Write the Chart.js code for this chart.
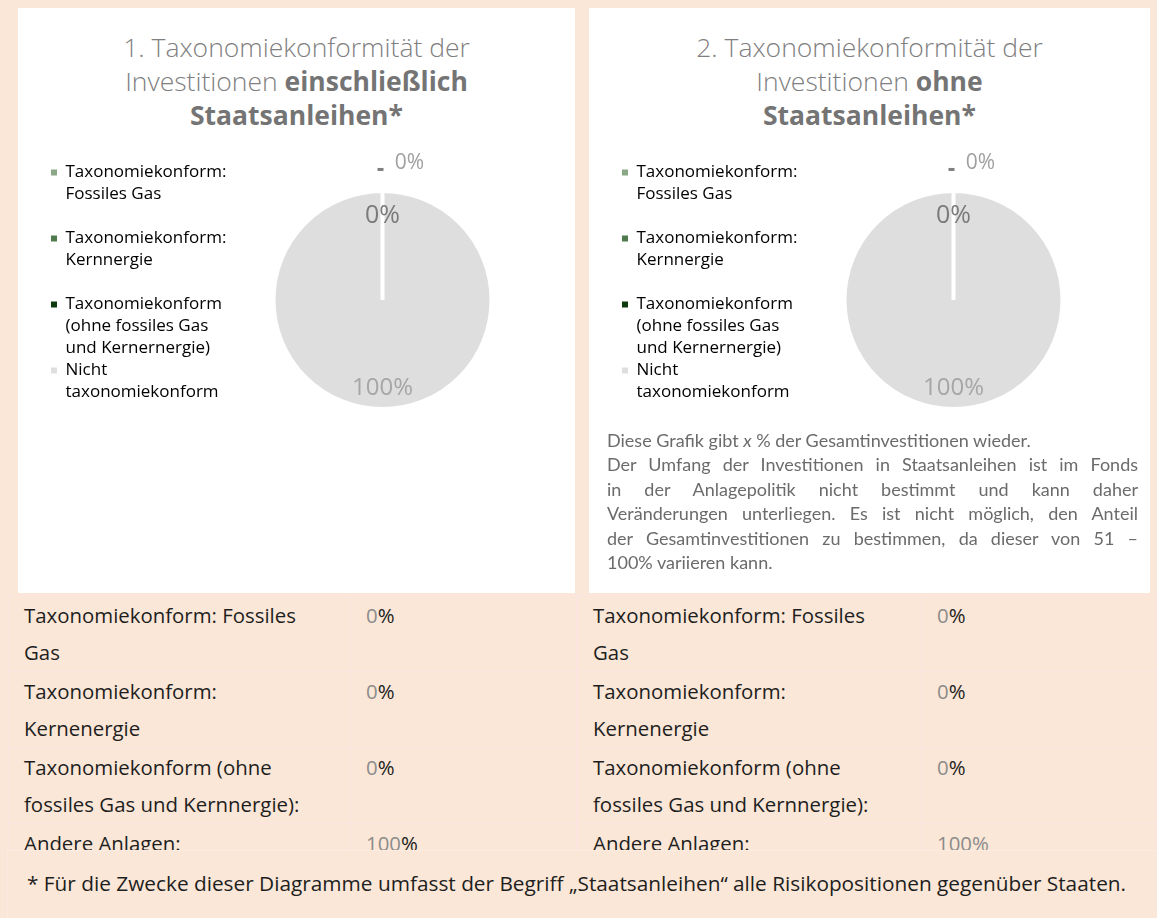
<!DOCTYPE html>
<html lang="de">
<head>
<meta charset="utf-8">
<title>Taxonomiekonformität</title>
<script src="https://cdn.jsdelivr.net/npm/chart.js@4.4.1/dist/chart.umd.min.js"></script>
<style>
  body {
    margin: 0;
    width: 1157px;
    height: 918px;
    overflow: hidden;
    position: relative;
    background: #fae7d7;
    font-family: "Open Sans", sans-serif;
  }
  .panel {
    position: absolute;
    top: 8px;
    height: 585px;
    background: #fff;
  }
  #panel1 { left: 18px; width: 557px; }
  #panel2 { left: 589px; width: 561px; }
  .title {
    position: absolute;
    left: 0;
    right: 0;
    top: 22px;
    text-align: center;
    font-size: 26.5px;
    line-height: 34px;
    font-weight: 300;
    color: #7f7f7f;
  }
  .title b { font-weight: 700; color: #747474; }
  .chartbox {
    position: absolute;
    left: 0;
    top: 122px;
    width: 557px;
    height: 310px;
  }
  .note {
    position: absolute;
    left: 18px;
    top: 420px;
    width: 531px;
    font-family: Lato, sans-serif;
    font-size: 18px;
    line-height: 24.4px;
    color: #6b6b6b;
  }
  .note div { white-space: nowrap; }
  .note .just { text-align: justify; text-align-last: justify; white-space: normal; }
  table.values {
    position: absolute;
    top: 595px;
    border-collapse: collapse;
    table-layout: fixed;
    font-size: 20.4px;
    line-height: 37px;
    color: #1e1e1e;
  }
  table.values td {
    border: 1px solid #fde4e1;
    padding: 1px 0 0 15px;
    vertical-align: top;
  }
  table.values .grey { color: #8c8c8c; }
  #table1 { left: 8px; width: 569px; }
  #table2 { left: 577px; width: 580px; }
  .footer {
    position: absolute;
    left: 7px;
    right: 0;
    top: 850px;
    bottom: 0;
    background: #fae7d7;
    border-top: 1px solid #fcebe0;
    border-left: 1px solid #fcebe0;
  }
  .footer p {
    margin: 0;
    position: absolute;
    left: 19px;
    top: 18px;
    font-size: 20.8px;
    color: #1e1e1e;
    white-space: nowrap;
  }
</style>
</head>
<body>

<div class="panel" id="panel1">
  <div class="title">1. Taxonomiekonformität der<br>Investitionen <b>einschließlich<br>Staatsanleihen*</b></div>
  <div class="chartbox"><canvas id="chartWith" width="557" height="310"></canvas></div>
</div>

<div class="panel" id="panel2">
  <div class="title">2. Taxonomiekonformität der<br>Investitionen <b>ohne<br>Staatsanleihen*</b></div>
  <div class="chartbox"><canvas id="chartWithout" width="557" height="310"></canvas></div>
  <div class="note">
    <div>Diese Grafik gibt <i>x</i> % der Gesamtinvestitionen wieder.</div>
    <div class="just">Der Umfang der Investitionen in Staatsanleihen ist im Fonds</div>
    <div class="just">in der Anlagepolitik nicht bestimmt und kann daher</div>
    <div class="just">Veränderungen unterliegen. Es ist nicht möglich, den Anteil</div>
    <div class="just">der Gesamtinvestitionen zu bestimmen, da dieser von 51 –</div>
    <div>100% variieren kann.</div>
  </div>
</div>

<table class="values" id="table1"></table>
<table class="values" id="table2"></table>

<div class="footer">
  <p>* Für die Zwecke dieser Diagramme umfasst der Begriff „Staatsanleihen“ alle Risikopositionen gegenüber Staaten.</p>
</div>

<script>
// ## DATA ##

const legendLines = [
  ["Taxonomiekonform:", "Fossiles Gas", ""],
  ["Taxonomiekonform:", "Kernnergie", ""],
  ["Taxonomiekonform", "(ohne fossiles Gas", "und Kernernergie)"],
  ["Nicht", "taxonomiekonform"],
];
const valuesWithBonds = [0, 0, 0, 100];
const valuesWithoutBonds = [0, 0, 0, 100];
const sliceColors = ["#8aa886", "#4f7a4d", "#0e3b0e", "#dedede"];

const tableLabels = [
  ["Taxonomiekonform: Fossiles", "Gas"],
  ["Taxonomiekonform:", "Kernenergie"],
  ["Taxonomiekonform (ohne", "fossiles Gas und Kernnergie):"],
  ["Andere Anlagen:"],
];
const tableWithBonds = [0, 0, 0, 100];
const tableWithoutBonds = [0, 0, 0, 100];

// how each slice label is shown (one entry per slice)
const labelPlacement = [
  { show: true, factor: 1.28, dx: 27, size: 21, color: "#a0a0a0", leader: true },
  { show: false },
  { show: true, factor: 0.79, dx: 0, size: 25, color: "#7a7a7a" },
  { show: true, factor: 0.82, dx: 0, size: 24, color: "#a6a6a6" },
];

// ## TABLES ##

function fillTable(id, values, allGrey, col1) {
  const table = document.getElementById(id);
  let html = `<colgroup><col style="width:${col1}px"><col></colgroup>`;
  tableLabels.forEach((lines, i) => {
    const pct = allGrey && i === tableLabels.length - 1
      ? `<span class="grey">${values[i]}%</span>`
      : `<span class="grey">${values[i]}</span>%`;
    html += `<tr><td>${lines.join("<br>")}</td><td>${pct}</td></tr>`;
  });
  table.innerHTML = html;
}

fillTable("table1", tableWithBonds, false, 342);
fillTable("table2", tableWithoutBonds, true, 344);

// ## PIE CHARTS ##

Chart.defaults.font.family = "'Open Sans', sans-serif";

const pieLabels = {
  id: "pieLabels",
  afterDatasetsDraw(chart) {
    const ctx = chart.ctx;
    const values = chart.data.datasets[0].data;
    chart.getDatasetMeta(0).data.forEach((arc, i) => {
      const place = labelPlacement[i];
      if (!place.show) return;
      const { x, y, startAngle, endAngle, outerRadius } = arc.getProps(
        ["x", "y", "startAngle", "endAngle", "outerRadius"], true
      );
      const mid = (startAngle + endAngle) / 2;
      const r = outerRadius - 2;
      const lx = x + Math.cos(mid) * r * place.factor + place.dx;
      const ly = y + Math.sin(mid) * r * place.factor;
      ctx.save();
      if (place.leader) {
        ctx.fillStyle = "#7f7f7f";
        ctx.fillRect(x + Math.cos(mid) * r * 1.22 - 5, y + Math.sin(mid) * r * 1.22 - 1.5, 6, 3);
      }
      ctx.font = `${place.size}px 'Open Sans', sans-serif`;
      ctx.fillStyle = place.color;
      ctx.textAlign = "center";
      ctx.textBaseline = "middle";
      ctx.fillText(values[i] + "%", lx, ly);
      ctx.restore();
    });
  },
};

// legend keeps a fixed width so the pie sits at the same spot in both panels
const fixedLegendWidth = {
  id: "fixedLegendWidth",
  afterInit(chart) {
    const fit = chart.legend.fit;
    chart.legend.fit = function () {
      fit.call(this);
      this.width = 200;
    };
  },
};

function createTaxonomyPie(canvasId, values) {
  const ctx = document.getElementById(canvasId).getContext("2d");
  return new Chart(ctx, {
    type: "pie",
    data: {
      labels: legendLines.map((l) => l.filter(Boolean).join(" ")),
      datasets: [
        {
          data: values,
          backgroundColor: sliceColors,
          borderColor: "#ffffff",
          borderWidth: 4,
          radius: 109,
        },
      ],
    },
    options: {
      responsive: false,
      animation: false,
      layout: {
        padding: { left: 33, top: 34, bottom: 4, right: 61 },
      },
      plugins: {
        tooltip: { enabled: false },
        legend: {
          position: "left",
          align: "start",
          labels: {
            boxWidth: 6,
            boxHeight: 6,
            padding: 0,
            color: "#595959",
            font: { size: 17, lineHeight: 22 / 17 },
            generateLabels: () =>
              legendLines.map((lines, i) => ({
                text: lines,
                fillStyle: sliceColors[i],
                strokeStyle: sliceColors[i],
                lineWidth: 0,
                hidden: false,
                index: i,
              })),
          },
        },
      },
    },
    plugins: [pieLabels, fixedLegendWidth],
  });
}

createTaxonomyPie("chartWith", valuesWithBonds);
createTaxonomyPie("chartWithout", valuesWithoutBonds);
</script>
</body>
</html>
